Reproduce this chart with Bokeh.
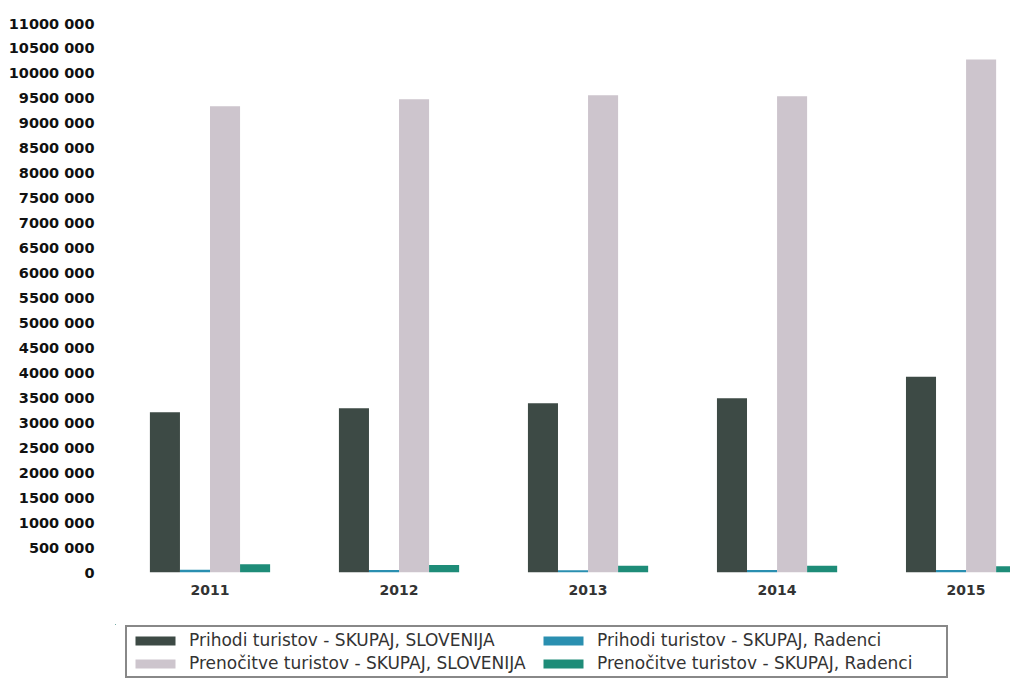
from bokeh.plotting import figure
from bokeh.models import ColumnDataSource, Legend, LegendItem, CustomJSTickFormatter, FixedTicker, Range1d
from bokeh.layouts import column
from bokeh.transform import dodge
from bokeh.embed import file_html
from bokeh.resources import INLINE

years = ["2011", "2012", "2013", "2014", "2015"]
prihodi_slo = [3210000, 3290000, 3390000, 3490000, 3920000]
prihodi_rad = [55000, 52000, 45000, 48000, 50000]
prenocitve_slo = [9340000, 9480000, 9560000, 9540000, 10280000]
prenocitve_rad = [165000, 150000, 135000, 135000, 125000]

labels = [
    "Prihodi turistov - SKUPAJ, SLOVENIJA",
    "Prihodi turistov - SKUPAJ, Radenci",
    "Prenočitve turistov - SKUPAJ, SLOVENIJA",
    "Prenočitve turistov - SKUPAJ, Radenci",
]
colors = ["#3d4a45", "#2a8fb0", "#cdc5cd", "#1e8c78"]
yticks = list(range(0, 11000001, 500000))

xpos = [i + 0.5 for i in range(len(years))]
src = ColumnDataSource(dict(x=xpos, a=prihodi_slo, b=prihodi_rad, c=prenocitve_slo, d=prenocitve_rad))

p = figure(x_range=Range1d(0, 4.735), y_range=Range1d(0, 11000000),
           width=1010, height=624, output_backend="svg", toolbar_location=None,
           min_border_left=115, min_border_right=0, min_border_top=23, min_border_bottom=52)

w = 0.159
keys = ["a", "b", "c", "d"]
offsets = [-1.5 * w, -0.5 * w, 0.5 * w, 1.5 * w]
for key, off, col in zip(keys, offsets, colors):
    p.vbar(x=dodge("x", off), top=key, width=w, source=src, fill_color=col, line_color=None)

p.outline_line_color = None
p.xgrid.visible = False
p.ygrid.visible = False

p.yaxis.ticker = FixedTicker(ticks=yticks)
p.yaxis.formatter = CustomJSTickFormatter(code="""
const v = Math.round(tick);
if (v == 0) return "0";
const th = Math.floor(v / 1000);
const rest = v % 1000;
return th.toString() + " " + rest.toString().padStart(3, "0");
""")
p.yaxis.axis_line_color = None
p.yaxis.major_tick_line_color = None
p.yaxis.minor_tick_line_color = None
p.yaxis.major_label_standoff = 15
p.yaxis.major_label_text_font = "DejaVu Sans"
p.yaxis.major_label_text_font_style = "bold"
p.yaxis.major_label_text_font_size = "14.5px"
p.yaxis.major_label_text_color = "#111111"

p.xaxis.ticker = FixedTicker(ticks=xpos)
p.xaxis.major_label_overrides = {x: y for x, y in zip(xpos, years)}
p.xaxis.axis_line_color = None
p.xaxis.major_tick_line_color = None
p.xaxis.minor_tick_line_color = None
p.xaxis.major_label_standoff = 6
p.xaxis.major_label_text_font = "DejaVu Sans"
p.xaxis.major_label_text_font_style = "bold"
p.xaxis.major_label_text_font_size = "14px"
p.xaxis.major_label_text_color = "#333333"

# legend strip below the chart (its bars fall outside its ranges, only swatches show)
p2 = figure(x_range=Range1d(100, 101), y_range=Range1d(-2, -1), width=1010, height=56,
            output_backend="svg", toolbar_location=None, x_axis_location=None, y_axis_location=None,
            min_border_left=0, min_border_right=0, min_border_top=0, min_border_bottom=0)
p2.outline_line_color = None
p2.xgrid.visible = False
p2.ygrid.visible = False
lr = [p2.vbar(x="x", top=k, width=0.1, source=src, fill_color=c, line_color=None)
      for k, c in zip(keys, colors)]

legend = Legend(items=[LegendItem(label=l, renderers=[r]) for l, r in zip(labels, lr)],
                orientation="horizontal", ncols=2, location=(10, 2), margin=0,
                padding=3, spacing=3, glyph_width=50, glyph_height=11, label_standoff=9,
                label_width=346, label_height=19,
                label_text_font="DejaVu Sans", label_text_font_size="17px", label_text_color="#333333",
                border_line_color="#111111", border_line_width=2, background_fill_alpha=1)
p2.add_layout(legend, "center")

open("out.html", "w").write(file_html(column(p, p2, spacing=0), INLINE))
